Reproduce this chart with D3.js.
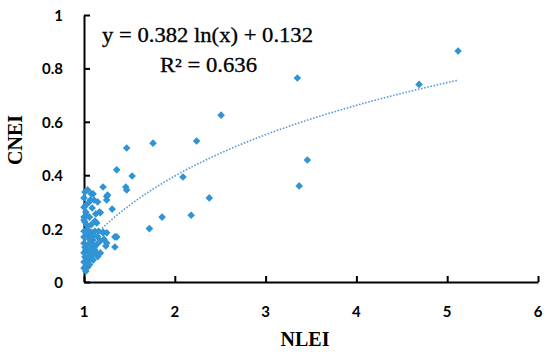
<!DOCTYPE html>
<html>
<head>
<meta charset="utf-8">
<script src="https://cdn.jsdelivr.net/npm/d3@7"></script>
<style>
  body { margin: 0; background: #fff; }
  svg { display: block; }
</style>
</head>
<body>
<svg id="chart" width="550" height="352"></svg>
<script>
// NLEI values (x) and CNEI values (y)
const nlei = [
  5.12, 4.69, 3.35, 3.46, 3.37, 2.51, 2.24, 1.76, 1.47, 2.09,
  2.38, 1.86, 2.18, 1.72, 1.36, 1.53, 1.21, 1.46, 1.47, 1.25,
  1.25, 1.31, 1.18, 1.21, 1.25, 1.34, 1.36, 1.25, 1.24, 1.34,
  1.01, 1.10, 1.04, 1.08, 1.26, 1.00, 1.11, 1.07, 1.15, 1.05,
  1.02, 1.17, 1.09, 1.02, 1.00, 1.06, 1.13, 1.01, 1.12, 1.14,
  1.04, 1.00, 1.03, 1.09, 1.21, 1.06, 1.12, 1.16, 1.00, 1.04,
  1.10, 1.18, 1.22, 1.04, 1.00, 1.08, 1.12, 1.18, 1.02, 1.07,
  1.01, 1.10, 1.15, 1.03, 1.06, 1.00, 1.02, 1.04, 1.00, 1.05,
  1.08, 1.14, 1.00, 1.00, 1.03, 1.08, 1.10, 1.15, 1.06, 1.01,
  1.03, 1.09, 1.13, 1.00, 1.05, 1.07, 1.11, 1.02
];
const cnei = [
  0.865, 0.740, 0.764, 0.457, 0.360, 0.625, 0.528, 0.520, 0.502, 0.393,
  0.315, 0.243, 0.250, 0.200, 0.420, 0.397, 0.356, 0.356, 0.345, 0.320,
  0.307, 0.273, 0.260, 0.184, 0.184, 0.169, 0.169, 0.146, 0.135, 0.131,
  0.337, 0.330, 0.345, 0.330, 0.326, 0.315, 0.307, 0.307, 0.300, 0.297,
  0.288, 0.262, 0.277, 0.262, 0.243, 0.243, 0.255, 0.225, 0.228, 0.221,
  0.210, 0.232, 0.195, 0.184, 0.187, 0.190, 0.190, 0.190, 0.169, 0.175,
  0.157, 0.154, 0.160, 0.139, 0.145, 0.145, 0.120, 0.109, 0.120, 0.100,
  0.094, 0.082, 0.095, 0.071, 0.065, 0.052, 0.040, 0.055, 0.075, 0.110,
  0.125, 0.140, 0.190, 0.280, 0.250, 0.215, 0.170, 0.170, 0.160, 0.130,
  0.088, 0.100, 0.110, 0.110, 0.080, 0.120, 0.130, 0.060
];

// log trendline y = a ln(x) + b, drawn over the data range
const trendA = 0.382, trendB = 0.132;
const trendX = [1, 1.25, 1.5, 1.75, 2, 2.5, 3, 3.5, 4, 4.5, 5, 5.12];

const xTicks = [1, 2, 3, 4, 5, 6];
const yTicks = [0, 0.2, 0.4, 0.6, 0.8, 1];
const eqText = "y = 0.382 ln(x) + 0.132";
const r2Text = "R² = 0.636";

const svg = d3.select('#chart');
const x = d3.scaleLinear().domain([1, 6]).range([84, 538]);
const y = d3.scaleLinear().domain([0, 1]).range([282, 15]);

// axes, ticks pointing inward
const xAxis = svg.append('g')
  .attr('transform', `translate(0,${y(0)})`)
  .call(d3.axisTop(x).tickValues(xTicks).tickSize(6).tickSizeOuter(0).tickFormat(''));
const yAxis = svg.append('g')
  .attr('transform', `translate(${x(1)},0)`)
  .call(d3.axisRight(y).tickValues(yTicks).tickSize(6).tickSizeOuter(0).tickFormat(''));
[xAxis, yAxis].forEach(g => {
  g.selectAll('path, line').attr('stroke', '#000').attr('stroke-width', 2);
});

// tick labels
svg.append('g').selectAll('text')
  .data(xTicks)
  .enter()
  .append('text')
  .attr('x', d => x(d))
  .attr('y', 317)
  .attr('text-anchor', 'middle')
  .style('font', 'bold 15px Lato, sans-serif')
  .text(d => d);

svg.append('g').selectAll('text')
  .data(yTicks)
  .enter()
  .append('text')
  .attr('x', 63)
  .attr('y', d => y(d) + 6)
  .attr('text-anchor', 'end')
  .style('font', 'bold 15px Lato, sans-serif')
  .text(d => d);

// axis titles
svg.append('text')
  .attr('x', 305).attr('y', 346)
  .attr('text-anchor', 'middle')
  .style('font', 'bold 20px "Liberation Serif", serif')
  .text('NLEI');

svg.append('text')
  .attr('transform', 'translate(22,140) rotate(-90)')
  .attr('text-anchor', 'middle')
  .style('font', 'bold 20px "Liberation Serif", serif')
  .text('CNEI');

// trendline
const line = d3.line()
  .x(d => x(d))
  .y(d => y(trendA * Math.log(d) + trendB))
  .curve(d3.curveMonotoneX);
svg.append('path')
  .datum(trendX)
  .attr('d', line)
  .attr('fill', 'none')
  .attr('stroke', '#5b9bd5')
  .attr('stroke-width', 1.6)
  .attr('stroke-dasharray', '1.6,1.6');

// points as diamonds
const r = 3.8;
svg.append('g').selectAll('path')
  .data(nlei.map((v, i) => [v, cnei[i]]))
  .enter()
  .append('path')
  .attr('d', `M0,${-r}L${r},0L0,${r}L${-r},0Z`)
  .attr('transform', d => `translate(${x(d[0])},${y(d[1])})`)
  .attr('fill', '#3093d4');

// equation labels (stretched to the width of the original Palatino text)
svg.append('text')
  .attr('x', 102).attr('y', 42)
  .attr('textLength', 211)
  .attr('lengthAdjust', 'spacingAndGlyphs')
  .style('font', '20px "Liberation Serif", serif')
  .attr('stroke', '#000').attr('stroke-width', 0.3)
  .text(eqText);
svg.append('text')
  .attr('x', 160).attr('y', 72)
  .attr('textLength', 97)
  .attr('lengthAdjust', 'spacingAndGlyphs')
  .style('font', '20px "Liberation Serif", serif')
  .attr('stroke', '#000').attr('stroke-width', 0.3)
  .text(r2Text);
</script>
</body>
</html>
